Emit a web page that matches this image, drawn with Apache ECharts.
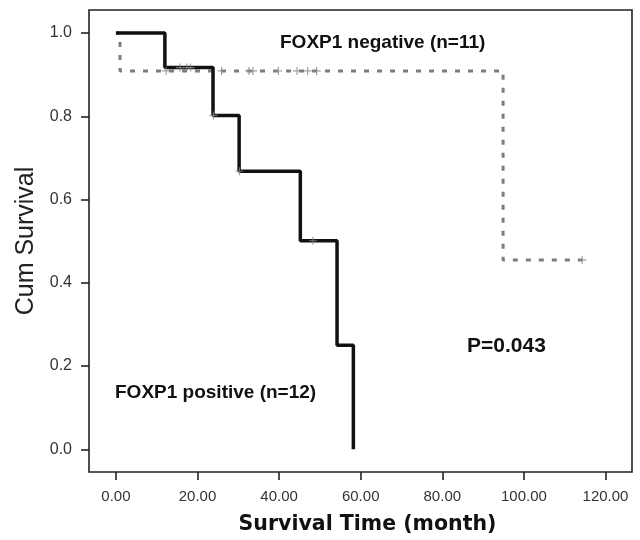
<!DOCTYPE html>
<html>
<head>
<meta charset="utf-8">
<script src="https://cdn.jsdelivr.net/npm/echarts@6/dist/echarts.min.js"></script>
<style>
html,body{margin:0;padding:0;background:#fff;}
#c{width:640px;height:540px;}
</style>
</head>
<body>
<div id="c"></div>
<script>
// Kaplan-Meier step data (time in months, cumulative survival)
var posTimes = [0, 12.0, 23.8, 30.2, 45.2, 54.2, 58.2];
var posSurv  = [1.0, 0.917, 0.802, 0.668, 0.501, 0.25, 0.0];
var negTimes = [0, 1.0, 94.9, 114.3];
var negSurv  = [1.0, 0.909, 0.4545, 0.4545];
// censored observations
var posCensorT = [15.7, 17.4, 18.3, 23.9, 30.3, 48.3];
var posCensorS = [0.917, 0.917, 0.917, 0.802, 0.668, 0.501];
var negCensorT = [12.3, 25.9, 32.6, 33.6, 39.8, 44.4, 47.0, 49.2, 114.3];
var negCensorS = [0.909, 0.909, 0.909, 0.909, 0.909, 0.909, 0.909, 0.909, 0.4545];
// tick labels
var xTicks = [0, 20, 40, 60, 80, 100, 120];
var yTicks = [0, 0.2, 0.4, 0.6, 0.8, 1.0];

function zip(a, b) { return a.map(function (v, i) { return [v, b[i]]; }); }

var plus = 'path://M-0.6,-4L0.6,-4L0.6,-0.6L4,-0.6L4,0.6L0.6,0.6L0.6,4L-0.6,4L-0.6,0.6L-4,0.6L-4,-0.6L-0.6,-0.6Z';

var chart = echarts.init(document.getElementById('c'));
chart.setOption({
  backgroundColor: '#fff',
  animation: false,
  grid: {
    left: 89, right: 8, top: 10, bottom: 68,
    show: true, borderColor: '#222', borderWidth: 1.6, backgroundColor: 'transparent'
  },
  xAxis: {
    type: 'value', min: -6.6, max: 126.5,
    axisLine: { show: false, onZero: false },
    axisTick: { show: true, customValues: xTicks, length: 8, lineStyle: { color: '#222', width: 1.6 } },
    axisLabel: {
      customValues: xTicks, margin: 17, color: '#333', fontSize: 15,
      fontFamily: 'Liberation Sans, Arial, sans-serif',
      formatter: function (v) { return v.toFixed(2); }
    },
    splitLine: { show: false },
    name: 'Survival Time (month)', nameLocation: 'middle', nameGap: 42,
    nameTextStyle: { fontFamily: 'DejaVu Sans, sans-serif', fontWeight: 'bold', fontSize: 20.5, color: '#111', padding: [0, 0, 0, 14] }
  },
  yAxis: {
    type: 'value', min: -0.0545, max: 1.0553,
    axisLine: { show: false, onZero: false },
    axisTick: { show: true, customValues: yTicks, length: 8, lineStyle: { color: '#222', width: 1.6 } },
    axisLabel: {
      customValues: yTicks, margin: 17, color: '#333', fontSize: 16,
      fontFamily: 'Liberation Sans, Arial, sans-serif',
      formatter: function (v) { return v.toFixed(1); }
    },
    splitLine: { show: false },
    name: 'Cum Survival', nameLocation: 'middle', nameGap: 50, nameRotate: 90,
    nameTextStyle: { fontFamily: 'Liberation Sans, Arial, sans-serif', fontSize: 25, color: '#222' }
  },
  graphic: [
    { type: 'text', left: 280, top: 33, style: { text: 'FOXP1 negative (n=11)', font: 'bold 19px "Liberation Sans", Arial, sans-serif', fill: '#111' } },
    { type: 'text', left: 115, top: 383, style: { text: 'FOXP1 positive (n=12)', font: 'bold 19px "Liberation Sans", Arial, sans-serif', fill: '#111' } },
    { type: 'text', left: 467, top: 336, style: { text: 'P=0.043', font: 'bold 21px "Liberation Sans", Arial, sans-serif', fill: '#111' } }
  ],
  series: [
    {
      name: 'FOXP1 negative', type: 'line', step: 'end', data: zip(negTimes, negSurv),
      symbol: 'none', z: 2,
      lineStyle: { color: '#7c7c7c', width: 3, type: [5, 8] }
    },
    {
      name: 'FOXP1 positive', type: 'line', step: 'end', data: zip(posTimes, posSurv),
      symbol: 'none', z: 3,
      lineStyle: { color: '#111', width: 3.5 }
    },
    {
      name: 'negative censored', type: 'scatter', data: zip(negCensorT, negCensorS),
      symbol: plus, symbolSize: 8, z: 4,
      itemStyle: { color: '#8a8a8a' }
    },
    {
      name: 'positive censored', type: 'scatter', data: zip(posCensorT, posCensorS),
      symbol: plus, symbolSize: 8, z: 4,
      itemStyle: { color: '#8a8a8a' }
    }
  ]
});
</script>
</body>
</html>
